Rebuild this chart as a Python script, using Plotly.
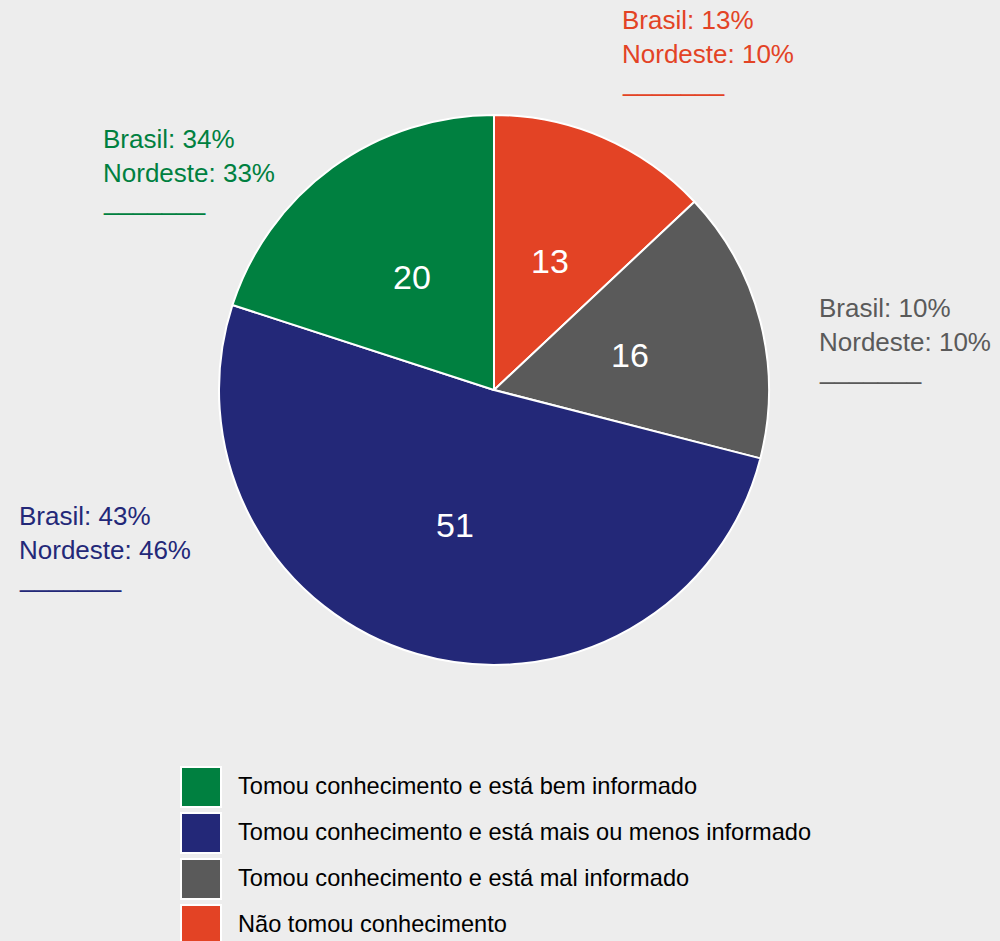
import math
import plotly.graph_objects as go

categories = [
    "Tomou conhecimento e está bem informado",
    "Tomou conhecimento e está mais ou menos informado",
    "Tomou conhecimento e está mal informado",
    "Não tomou conhecimento",
]
values = [20, 51, 16, 13]
brasil = [34, 43, 10, 13]
nordeste = [33, 46, 10, 10]
colors = ["#008040", "#232878", "#5a5a5a", "#e34325"]

W, H = 1000, 941
BG = "#ededed"
FONT = "Liberation Sans, Arial"

# pie geometry (pixels)
CX, CY, R = 494, 390, 275

fig = go.Figure()
# drawn clockwise from 12 o'clock in reversed order == counterclockwise in legend order
fig.add_trace(go.Pie(
    labels=categories[::-1],
    values=values[::-1],
    sort=False,
    direction="clockwise",
    rotation=0,
    marker=dict(colors=colors[::-1], line=dict(color="white", width=2)),
    textinfo="none",
    hoverinfo="label+value",
    showlegend=False,
    domain=dict(x=[(CX - R) / W, (CX + R) / W], y=[1 - (CY + R) / H, 1 - (CY - R) / H]),
))

annotations = []

# value labels at ~0.51 R along each slice bisector (counterclockwise from 12 o'clock)
total = sum(values)
cum = 0
for v in values:
    mid = (cum + v / 2) / total * 2 * math.pi
    cum += v
    px = CX - 0.51 * R * math.sin(mid)
    py = CY - 0.51 * R * math.cos(mid)
    annotations.append(dict(
        x=px / W, y=1 - py / H, xref="paper", yref="paper",
        xanchor="center", yanchor="middle", showarrow=False,
        text=str(v), font=dict(family=FONT, size=34, color="white"),
    ))

# side annotations (Brasil / Nordeste comparison)
ann_pos = [(101, 122), (17, 499), (817, 291), (620, 3)]
for (x, y), b, n, c in zip(ann_pos, brasil, nordeste, colors):
    annotations.append(dict(
        x=x / W, y=1 - y / H, xref="paper", yref="paper",
        xanchor="left", yanchor="top", align="left", showarrow=False,
        text=f"Brasil: {b}%<br>Nordeste: {n}%",
        font=dict(family=FONT, size=26, color=c),
    ))
    annotations.append(dict(
        x=x / W, y=1 - (y + 62) / H, xref="paper", yref="paper",
        xanchor="left", yanchor="top", align="left", showarrow=False,
        text="_______",
        font=dict(family=FONT, size=26, color=c),
    ))

# custom legend
shapes = []
for i, (cat, c) in enumerate(zip(categories, colors)):
    top = 767 + i * 46
    shapes.append(dict(
        type="rect", xref="paper", yref="paper",
        x0=181 / W, x1=221 / W, y0=1 - (top + 40) / H, y1=1 - top / H,
        fillcolor=c, line=dict(color="white", width=2),
    ))
    annotations.append(dict(
        x=236 / W, y=1 - (top + 19) / H, xref="paper", yref="paper",
        xanchor="left", yanchor="middle", showarrow=False,
        text=cat, font=dict(family=FONT, size=23.6, color="black"),
    ))

fig.update_layout(
    width=W, height=H,
    margin=dict(l=0, r=0, t=0, b=0),
    paper_bgcolor=BG, plot_bgcolor=BG,
    annotations=annotations,
    shapes=shapes,
)

fig.write_html(
    "out.html",
    config={"displayModeBar": False},
    post_script="document.body.style.margin='0';document.body.style.background='%s';" % BG,
)
